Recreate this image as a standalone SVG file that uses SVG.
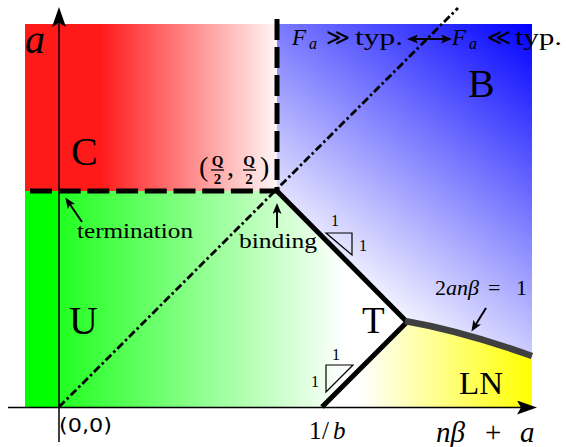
<svg xmlns="http://www.w3.org/2000/svg" width="566" height="447" viewBox="0 0 566 447">
<style>
.serif{font-family:"Liberation Serif","DejaVu Serif",serif;fill:#000}
.it{font-style:italic}
.big{font-size:40px}
.lbl{font-size:21px}
.one{font-size:16px}
.bold{font-weight:bold}
.sans{font-family:"DejaVu Sans","Liberation Sans",sans-serif;fill:#000}
.axis{stroke:#000;stroke-width:1.5;fill:none}
.thick{stroke:#000;stroke-width:5;fill:none}
.dash{stroke:#000;stroke-width:5;fill:none}
.dashdot{stroke:#000;stroke-width:2.8;fill:none;stroke-dasharray:8 3 2.5 3}
.small{stroke:#000;stroke-width:2;fill:none}
.tri{stroke:#000;stroke-width:1.2;fill:none}
</style>
<defs>
<linearGradient id="gRed" gradientUnits="userSpaceOnUse" x1="25" y1="0" x2="277" y2="0">
<stop offset="0" stop-color="#ff1a1a"/>
<stop offset="0.3" stop-color="#ff1a1a"/>
<stop offset="1" stop-color="#fff6f6"/>
</linearGradient>
<linearGradient id="gGreen" gradientUnits="userSpaceOnUse" x1="25" y1="0" x2="345" y2="0">
<stop offset="0" stop-color="#00ff00"/>
<stop offset="0.105" stop-color="#00ff00"/>
<stop offset="0.11" stop-color="#22ff22"/>
<stop offset="1" stop-color="#ffffff"/>
</linearGradient>
<linearGradient id="gBlue" gradientUnits="userSpaceOnUse" x1="340" y1="290" x2="540" y2="30">
<stop offset="0" stop-color="#ffffff"/>
<stop offset="1" stop-color="#0000ff"/>
</linearGradient>
<linearGradient id="gYellow" gradientUnits="userSpaceOnUse" x1="360" y1="0" x2="532" y2="0">
<stop offset="0" stop-color="#ffffff"/>
<stop offset="1" stop-color="#ffff00"/>
</linearGradient>
<marker id="big" markerUnits="userSpaceOnUse" viewBox="0 0 20 14" markerWidth="20" markerHeight="14" refX="16" refY="7" orient="auto">
<path d="M0,0 L20,7 L0,14 L4,7 Z" fill="#000"/>
</marker>
<marker id="sm" markerUnits="userSpaceOnUse" viewBox="0 0 11 9" markerWidth="11" markerHeight="9" refX="8" refY="4.5" orient="auto-start-reverse">
<path d="M0,0 L11,4.5 L0,9 L2.5,4.5 Z" fill="#000"/>
</marker>
</defs>
<rect width="566" height="447" fill="#fff"/>
<g id="regions">
<g id="region-C"><rect x="25" y="24" width="252" height="167" fill="url(#gRed)"/></g>
<g id="region-B"><rect x="277" y="24" width="255" height="383" fill="url(#gBlue)"/></g>
<g id="region-U"><path d="M25,191 L277,191 L407,322 L322,407 L25,407 Z" fill="url(#gGreen)"/></g>
<g id="region-LN"><path d="M407,322 Q462,331 532,356 L532,407 L322,407 Z" fill="url(#gYellow)"/></g>
</g>
<g id="connectors">
<path class="dashdot" d="M59,407 L458,8"/>
<path class="dash" d="M30,191 H277" stroke-dasharray="22 6.7"/>
<path class="dash" d="M277,19 V191" stroke-dasharray="21 7"/>
<path class="thick" d="M277,191 L407,322 L322,407" stroke-linejoin="miter"/>
<path d="M405,321 Q462,331 532,356" stroke="#404040" stroke-width="6.5" fill="none"/>
<path class="axis" d="M59,442 V11" marker-end="url(#big)"/>
<path class="axis" d="M8,407.5 H533" marker-end="url(#big)"/>
<path class="small" d="M82,222 L67,200" marker-end="url(#sm)"/>
<path class="small" d="M277,228 V206" marker-end="url(#sm)"/>
<path class="small" d="M486,308 L473,329" stroke-width="2.5" marker-end="url(#sm)"/>
<path class="small" d="M410,39 H449" stroke-width="1.8" marker-start="url(#sm)" marker-end="url(#sm)"/>
<path class="tri" d="M326,233 H352 V255 Z"/>
<path class="tri" d="M326,365 H353 L326,392 Z"/>
</g>
<g id="labels">
<g id="axis-a"><text class="serif it" x="25" y="53" font-size="40">a</text></g>
<g id="label-C"><text class="serif big" x="71" y="165">C</text></g>
<g id="label-U"><text class="serif big" x="69" y="334">U</text></g>
<g id="label-B"><text class="serif big" x="468" y="97">B</text></g>
<g id="label-T"><text class="serif" x="362" y="333" font-size="37">T</text></g>
<g id="label-LN"><text class="serif" x="459" y="394" font-size="32" textLength="44" lengthAdjust="spacingAndGlyphs">LN</text></g>
<g id="label-point">
<text class="serif" x="199" y="176" font-size="28">(</text>
<text class="serif bold" x="217.5" y="166" font-size="15" text-anchor="middle">Q</text>
<line x1="211" y1="170" x2="224" y2="170" stroke="#000" stroke-width="1.3"/>
<text class="serif bold" x="217.5" y="184" font-size="15" text-anchor="middle">2</text>
<text class="serif" x="227" y="176" font-size="28">,</text>
<text class="serif bold" x="249" y="166" font-size="15" text-anchor="middle">Q</text>
<line x1="243" y1="170" x2="256" y2="170" stroke="#000" stroke-width="1.3"/>
<text class="serif bold" x="249" y="184" font-size="15" text-anchor="middle">2</text>
<text class="serif" x="260" y="176" font-size="28">)</text>
</g>
<g id="label-termination"><text class="serif lbl" x="77" y="238" textLength="116" lengthAdjust="spacingAndGlyphs">termination</text></g>
<g id="label-binding"><text class="serif lbl" x="239" y="248" textLength="78" lengthAdjust="spacingAndGlyphs">binding</text></g>
<g id="label-Fa-strong">
<text class="serif" y="45" font-size="23"><tspan class="it" x="292">F</tspan><tspan class="it" x="309" y="49" font-size="16">a</tspan><tspan x="326" y="45">≫</tspan></text>
<text class="serif" x="355" y="45" font-size="23" textLength="48" lengthAdjust="spacingAndGlyphs">typ.</text>
</g>
<g id="label-Fa-weak">
<text class="serif" y="45" font-size="23"><tspan class="it" x="452">F</tspan><tspan class="it" x="469" y="49" font-size="16">a</tspan><tspan x="487" y="45">≪</tspan></text>
<text class="serif" x="515" y="45" font-size="23" textLength="47" lengthAdjust="spacingAndGlyphs">typ.</text>
</g>
<g id="label-curve"><text class="serif" y="295" font-size="22"><tspan x="435">2</tspan><tspan class="it" x="446">anβ</tspan><tspan x="488">=</tspan><tspan x="516">1</tspan></text></g>
<g id="label-slope1">
<text class="serif one" x="331" y="226">1</text>
<text class="serif one" x="359" y="251">1</text>
</g>
<g id="label-slope2">
<text class="serif one" x="332" y="360">1</text>
<text class="serif one" x="311" y="387">1</text>
</g>
<g id="label-1b"><text class="serif" y="439" font-size="25"><tspan x="309">1</tspan><tspan x="322">/</tspan><tspan class="it" x="333">b</tspan></text></g>
<g id="label-xaxis"><text class="serif" y="442" font-size="29"><tspan class="it" x="436">nβ</tspan><tspan x="485">+</tspan><tspan class="it" x="520">a</tspan></text></g>
<g id="label-origin"><text class="sans" x="59" y="432" font-size="20" textLength="53" lengthAdjust="spacingAndGlyphs">(0,0)</text></g>
</g>
</svg>
